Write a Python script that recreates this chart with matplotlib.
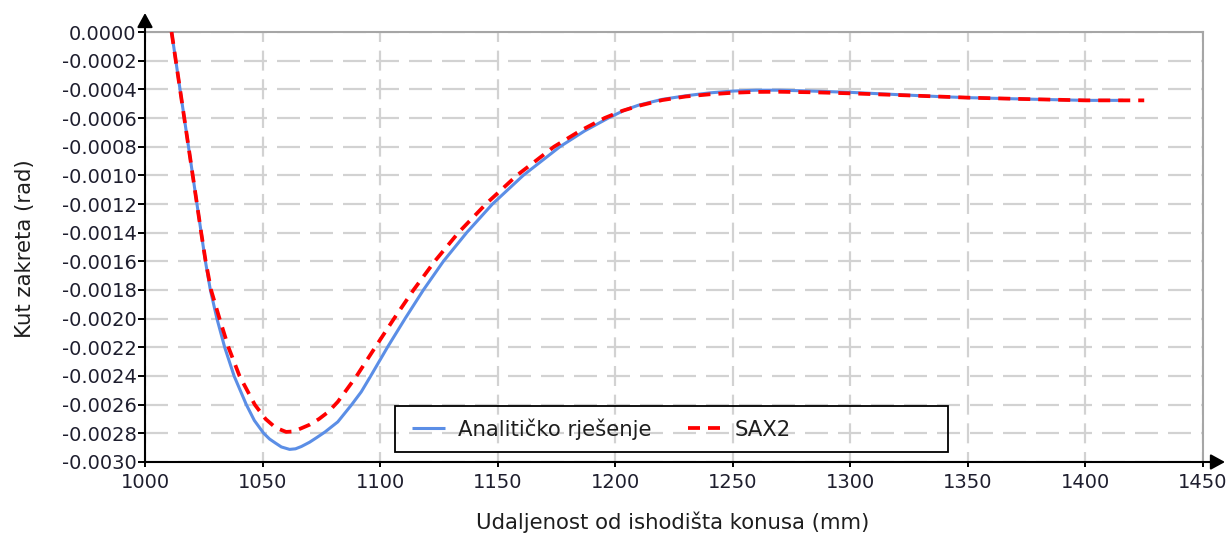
import matplotlib
matplotlib.use("Agg")
import matplotlib.pyplot as plt
from matplotlib.patches import Rectangle

plt.rcParams['lines.scale_dashes'] = False
plt.rcParams['font.family'] = ['DejaVu Sans']

# ---------------- data ----------------
series_names = ["Analitičko rješenje", "SAX2"]

x_analytic = [1011.3, 1013.1, 1014.9, 1016.7, 1018.5, 1020.3, 1022.1, 1023.9, 1025.7,
              1027.8, 1030.6, 1033.9, 1037.9, 1043.1, 1046.5, 1050.5, 1053.0, 1055.5,
              1058.0, 1061.5, 1064.0, 1066.5, 1070.0, 1073.0, 1076.6, 1082.0, 1087.9,
              1092.0, 1096.0, 1103.1, 1110.6, 1118.4, 1126.9, 1136.8, 1147.8, 1160.9,
              1176.5, 1187.0, 1197.1, 1204.0, 1210.0, 1220.0, 1230.0, 1240.0, 1250.0,
              1260.0, 1270.0, 1281.5, 1300.0, 1324.0, 1338.2, 1350.0, 1372.2, 1400.0,
              1416.0]
y_analytic = [0.0, -0.00020, -0.00040, -0.00060, -0.00080, -0.00100, -0.00120,
              -0.00140, -0.00160, -0.00180, -0.00200, -0.00220, -0.00240, -0.00260,
              -0.00271, -0.00280, -0.00284, -0.002868, -0.002895, -0.002912,
              -0.002908, -0.002892, -0.002862, -0.00283, -0.00279, -0.00272, -0.00260,
              -0.00251, -0.00240, -0.00220, -0.00200, -0.00180, -0.00160, -0.00140,
              -0.00120, -0.00100, -0.00080, -0.00069, -0.00060, -0.000545, -0.00051,
              -0.00047, -0.000445, -0.000425, -0.000412, -0.000406, -0.000406,
              -0.000411, -0.000421, -0.000440, -0.000451, -0.000458, -0.000467,
              -0.000477, -0.000477]

x_sax2 = [1011.3, 1013.1, 1014.9, 1016.7, 1018.5, 1020.3, 1022.1, 1023.9, 1025.8,
          1028.1, 1031.7, 1035.5, 1040.2, 1046.7, 1051.3, 1055.5, 1060.0, 1063.0,
          1066.0, 1070.0, 1074.0, 1078.0, 1082.0, 1090.0, 1097.9, 1105.9, 1114.2,
          1123.2, 1133.3, 1145.0, 1158.2, 1174.0, 1185.0, 1195.5, 1203.0, 1210.0,
          1220.0, 1230.0, 1240.0, 1250.0, 1260.0, 1270.0, 1285.0, 1300.0, 1324.0,
          1350.0, 1372.2, 1400.0, 1425.0]
y_sax2 = [0.0, -0.00020, -0.00040, -0.00060, -0.00080, -0.00100, -0.00120, -0.00140,
          -0.00160, -0.00180, -0.00200, -0.00220, -0.00240, -0.00260, -0.00270,
          -0.00276, -0.00279, -0.002787, -0.002768, -0.00274, -0.00270, -0.00265,
          -0.00258, -0.00240, -0.00220, -0.00200, -0.00180, -0.00160, -0.00140,
          -0.00120, -0.00100, -0.00080, -0.00069, -0.00060, -0.00055, -0.000515,
          -0.000475, -0.00045, -0.000435, -0.000424, -0.000418, -0.000417,
          -0.000421, -0.000428, -0.000442, -0.000458, -0.000467, -0.000477,
          -0.000477]

x_ticks = [1000, 1050, 1100, 1150, 1200, 1250, 1300, 1350, 1400, 1450]
y_ticks = [0.0, -0.0002, -0.0004, -0.0006, -0.0008, -0.0010, -0.0012, -0.0014,
           -0.0016, -0.0018, -0.0020, -0.0022, -0.0024, -0.0026, -0.0028, -0.0030]
y_ticklabels = [f"{v:.4f}" for v in y_ticks]

x_label = "Udaljenost od ishodišta konusa (mm)"
y_label = "Kut zakreta (rad)"

# ---------------- figure ----------------
W, H, DPI = 1231, 540, 100
fig = plt.figure(figsize=(W / DPI, H / DPI), dpi=DPI, facecolor="white")
L, R, T, B = 145, 1203, 32, 462
ax = fig.add_axes([L / W, 1 - B / H, (R - L) / W, (B - T) / H])

px = 0.72  # points per pixel at 100 dpi

blue = "#5b8ee6"
red = "#ff0000"

ax.plot(x_analytic, y_analytic, color=blue, lw=2.2, solid_capstyle="butt",
        solid_joinstyle="round", label=series_names[0], zorder=3)
ax.plot(x_sax2, y_sax2, color=red, lw=2.7, linestyle=(0, (12 * px, 8 * px)),
        dash_capstyle="butt", label=series_names[1], zorder=4)

ax.set_xlim(1000, 1450)
ax.set_ylim(-0.0030, 0.0)
ax.set_xticks(x_ticks)
ax.set_xticklabels([str(t) for t in x_ticks])
ax.set_yticks(y_ticks)
ax.set_yticklabels(y_ticklabels)

grid_col = "#d2d2d2"
ax.set_axisbelow(True)
ax.grid(axis="y", color=grid_col, lw=1.6, linestyle=(0, (23 * px, 10 * px)))
ax.grid(axis="x", color=grid_col, lw=1.6, linestyle=(10 * px, (20 * px, 8.67 * px)))

for s in ("left", "bottom"):
    ax.spines[s].set_visible(False)
for s in ("top", "right"):
    ax.spines[s].set_color("#a6a6a6")
    ax.spines[s].set_linewidth(1.5)

tick_col = "#1e1e2e"
ax.tick_params(axis="y", direction="out", length=5, width=1.4, pad=1,
               labelsize=14, colors="black", labelcolor=tick_col)
ax.tick_params(axis="x", direction="out", length=3.6, width=1.4, pad=4,
               labelsize=14, colors="black", labelcolor=tick_col)

# axes with arrowheads
arrow_kw = dict(arrowstyle="-|>,head_length=0.86,head_width=0.47", color="black",
                lw=1.5, shrinkA=0, shrinkB=0, mutation_scale=10)
ax.annotate("", xy=(0, (B - 13) / (B - T)), xytext=(0, 0), xycoords="axes fraction",
            textcoords="axes fraction", arrowprops=arrow_kw, annotation_clip=False)
ax.annotate("", xy=((1225 - L) / (R - L), 0), xytext=(0, 0), xycoords="axes fraction",
            textcoords="axes fraction", arrowprops=arrow_kw, annotation_clip=False)

# axis labels
lab_fs = 15.3
fig.text(673 / W, 1 - 522 / H, x_label, ha="center", va="center", fontsize=lab_fs,
         color="#1e1e1e")
fig.text(25 / W, 1 - 249 / H, y_label, ha="center", va="center", rotation=90,
         fontsize=lab_fs, color="#1e1e1e")

# legend (transparent box)
box_l, box_r, box_t, box_b = 395, 948, 406, 452
ax.add_patch(Rectangle(((box_l - L) / (R - L), (B - box_b) / (B - T)),
                       (box_r - box_l) / (R - L), (box_b - box_t) / (B - T),
                       transform=ax.transAxes, fill=False, edgecolor="black",
                       lw=1.3, clip_on=False, zorder=5))
leg = ax.legend(loc="center left",
                bbox_to_anchor=((412 - L) / (R - L), (B - 429) / (B - T)),
                ncol=2, frameon=False, fontsize=lab_fs, handlelength=1.55,
                handletextpad=0.61, columnspacing=1.74, borderaxespad=0,
                borderpad=0, labelcolor="#1e1e1e")

fig.savefig("out.png", dpi=DPI, facecolor="white")
